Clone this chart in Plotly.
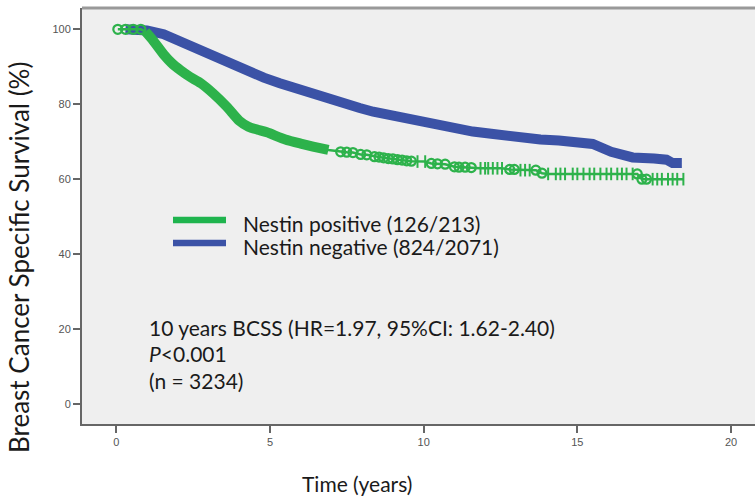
import plotly.graph_objects as go

# ---------------- data ----------------
blue_time = [0.3, 1.0, 1.54, 2.08, 2.6, 3.16, 3.7, 4.24, 4.8, 5.32, 5.9, 6.41, 6.9, 7.27, 7.92, 8.36,
             8.9, 9.44, 10.0, 10.5, 11.0, 11.6, 12.2, 12.7, 13.3, 13.8, 14.4, 14.9, 15.5, 16.1,
             16.8, 17.5, 17.9, 18.1, 18.4]
blue_surv = [100.0, 99.7, 98.7, 96.7, 94.7, 92.7, 90.6, 88.7, 87.1, 85.6, 84.0, 82.5, 81.3, 80.3,
             79.0, 78.0, 77.1, 76.2, 75.0, 74.0, 73.4, 72.7, 72.1, 71.5, 71.0, 70.6, 70.3, 70.0,
             69.4, 67.3, 65.8, 65.5, 65.2, 64.3, 64.3]

green_time = [0.05, 0.3, 0.55, 0.8, 0.95, 1.2, 1.55, 1.8, 2.1, 2.4, 2.75, 3.15, 3.6, 4.0, 4.3,
              4.6, 4.9, 5.5, 6.0, 6.4, 6.9, 7.3, 7.5, 7.7, 7.95, 8.15, 8.4, 8.55, 8.7, 8.85,
              9.0, 9.15, 9.3, 9.45, 9.6, 9.8, 10.05, 10.25, 10.45, 10.7, 11.0, 11.15, 11.35,
              11.55, 11.85, 12.0, 12.1, 12.25, 12.4, 12.55, 12.8, 12.95, 13.15, 13.3, 13.45,
              13.65, 13.85, 14.05, 14.3, 14.45, 14.6, 14.85, 15.0, 15.2, 15.4, 15.55, 15.75,
              15.95, 16.1, 16.3, 16.45, 16.6, 16.8, 16.95, 17.1, 17.25, 17.45, 17.6, 17.75,
              17.95, 18.1, 18.25, 18.45]
green_surv = [100.0, 100.0, 100.0, 100.0, 99.4, 97.0, 93.2, 91.0, 89.0, 87.3, 85.6, 82.9, 79.3,
              75.6, 74.0, 73.2, 72.5, 70.6, 69.5, 68.7, 67.8, 67.3, 67.2, 67.1, 66.6, 66.5, 66.0,
              65.9, 65.7, 65.5, 65.4, 65.2, 65.1, 64.9, 64.8, 64.7, 64.7, 64.2, 64.1, 64.0, 63.3,
              63.2, 63.2, 63.1, 62.9, 62.9, 62.9, 62.9, 62.9, 62.9, 62.6, 62.6, 62.4, 62.4, 62.4,
              62.4, 61.6, 61.4, 61.4, 61.4, 61.4, 61.4, 61.4, 61.4, 61.4, 61.4, 61.4, 61.4, 61.4,
              61.4, 61.4, 61.4, 61.4, 61.4, 60.0, 60.0, 60.0, 60.0, 60.0, 60.0, 60.0, 60.0, 60.0]
# censoring mark: 'o' circle, '+' cross, '' none
green_mark = ['o', 'o', 'o', 'o', '', '', '', '', '', '', '', '', '', '', '', '', '', '', '', '', '',
              'o', 'o', 'o', 'o', 'o', 'o', 'o', 'o', 'o', 'o', 'o', 'o', 'o', 'o', '+', '+', 'o',
              'o', 'o', 'o', 'o', 'o', 'o', '+', '+', '+', '+', '+', '+', 'o', 'o', '+', '+', '+',
              'o', 'o', '+', '+', '+', '+', '+', '+', '+', '+', '+', '+', '+', '+', '+', '+', '+',
              '+', 'o', 'o', 'o', '+', '+', '+', '+', '+', '+', '+']

legend_labels = ["Nestin positive (126/213)", "Nestin negative (824/2071)"]
stats_lines = ["10 years BCSS (HR=1.97, 95%CI: 1.62-2.40)", "<i>P</i><0.001", "(n = 3234)"]
x_ticks = [0, 5, 10, 15, 20]
y_ticks = [0, 20, 40, 60, 80, 100]

# ---------------- styling ----------------
GREEN = "#2db24b"
GREEN_LEG = "#1fb44e"
BLUE = "#3b52a6"
TEXT_FONT = "Lato"
W, H = 755, 500
L, R, T, B = 82, 755, 8, 424


def px_x(px):
    return (px - L) / (R - L)


def px_y(py):
    return (B - py) / (B - T)


fig = go.Figure()

# Nestin negative (blue thick band)
fig.add_trace(go.Scatter(x=blue_time, y=blue_surv, mode="lines",
                         line=dict(color=BLUE, width=10), showlegend=False, hoverinfo="skip"))

# Nestin positive: thick early band
band_idx = [i for i, t in enumerate(green_time) if 0.9 <= t <= 7.0]
fig.add_trace(go.Scatter(x=[green_time[i] for i in band_idx], y=[green_surv[i] for i in band_idx],
                         mode="lines", line=dict(color=GREEN, width=10, shape="spline", smoothing=0.6),
                         showlegend=False, hoverinfo="skip"))
# thin line over the whole range
fig.add_trace(go.Scatter(x=green_time, y=green_surv, mode="lines",
                         line=dict(color=GREEN, width=2.5), showlegend=False, hoverinfo="skip"))
# censor marks
ci = [i for i, m in enumerate(green_mark) if m == 'o']
pi = [i for i, m in enumerate(green_mark) if m == '+']
fig.add_trace(go.Scatter(x=[green_time[i] for i in ci], y=[green_surv[i] for i in ci], mode="markers",
                         marker=dict(symbol="circle-open", size=9, color=GREEN, line=dict(width=2.2, color=GREEN)),
                         showlegend=False, hoverinfo="skip"))
fig.add_trace(go.Scatter(x=[green_time[i] for i in pi], y=[green_surv[i] for i in pi], mode="markers",
                         marker=dict(symbol="line-ns-open", size=9, color=GREEN, line=dict(width=2, color=GREEN)),
                         showlegend=False, hoverinfo="skip"))

axis_common = dict(showgrid=False, zeroline=False, showline=True, linecolor="#666", linewidth=2,
                   ticks="outside", ticklen=7, tickwidth=2, tickcolor="#666",
                   tickfont=dict(family="Liberation Sans", size=11, color="#555"))

fig.update_xaxes(range=[-1.115, 20.78], tickvals=x_ticks, ticktext=[str(v) for v in x_ticks], **axis_common)
fig.update_yaxes(range=[-5.34, 105.68], tickvals=y_ticks, ticktext=[str(v) for v in y_ticks], **axis_common)

shapes = [dict(type="line", xref="paper", yref="paper", x0=0, x1=1, y0=1, y1=1,
               line=dict(color="#999", width=3))]
# legend swatches
for py, col in [(220, GREEN_LEG), (243, BLUE)]:
    shapes.append(dict(type="line", xref="paper", yref="paper", x0=px_x(173), x1=px_x(226),
                       y0=px_y(py), y1=px_y(py), line=dict(color=col, width=6.5)))

annotations = []
for py, txt in zip([223, 246], legend_labels):
    annotations.append(dict(text=txt, xref="paper", yref="paper", x=px_x(241), y=px_y(py),
                            xanchor="left", yanchor="middle", showarrow=False,
                            font=dict(family=TEXT_FONT, size=21, color="#1a1a1a")))
for py, txt in zip([327, 353, 380], stats_lines):
    annotations.append(dict(text=txt, xref="paper", yref="paper", x=px_x(147), y=px_y(py),
                            xanchor="left", yanchor="middle", showarrow=False,
                            font=dict(family=TEXT_FONT, size=21, color="#1a1a1a")))
annotations.append(dict(text="Breast Cancer Specific Survival (%)", xref="paper", yref="paper",
                        x=px_x(19), y=px_y(258), xanchor="center", yanchor="middle", textangle=-90,
                        showarrow=False, font=dict(family=TEXT_FONT, size=26, color="#1a1a1a")))
annotations.append(dict(text="Time (years)", xref="paper", yref="paper",
                        x=px_x(357), y=px_y(483), xanchor="center", yanchor="middle",
                        showarrow=False, font=dict(family=TEXT_FONT, size=21, color="#1a1a1a")))

fig.update_layout(width=W, height=H, margin=dict(l=L, r=W - R, t=T, b=H - B, pad=0),
                  paper_bgcolor="white", plot_bgcolor="#efefef",
                  shapes=shapes, annotations=annotations, showlegend=False)

fig.write_html("out.html", config={"displayModeBar": False},
               post_script="document.body.style.margin='0px';")
